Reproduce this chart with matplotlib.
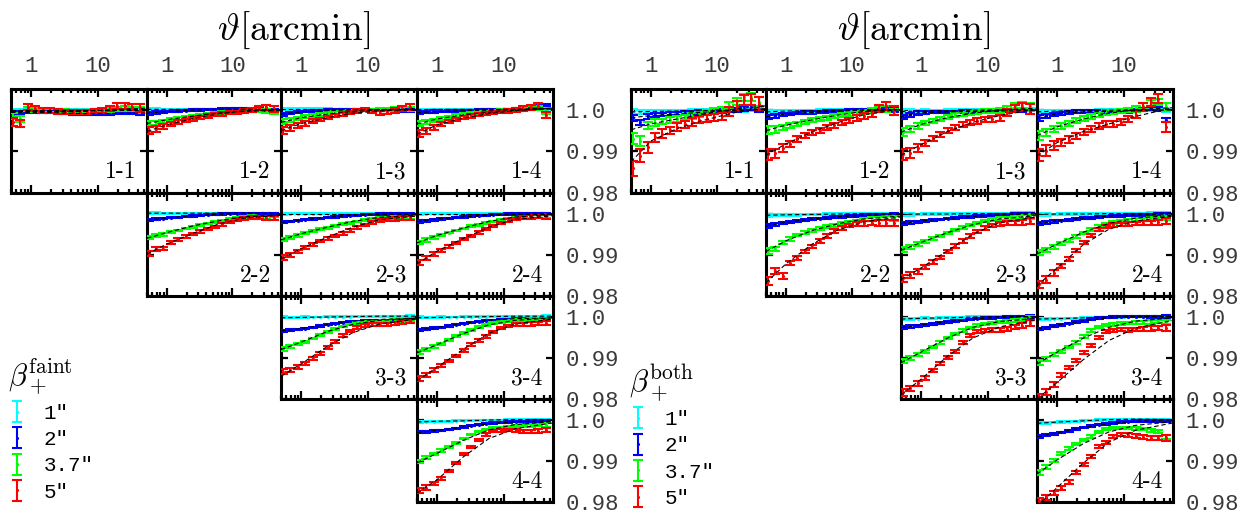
import matplotlib
matplotlib.use("Agg")
import matplotlib.pyplot as plt
from matplotlib.ticker import NullFormatter
import numpy as np

plt.rcParams['mathtext.fontset'] = 'cm'
plt.rcParams['font.family'] = ['Liberation Mono', 'DejaVu Sans Mono']

# angular bins (arcmin) and model nodes
theta = [0.53, 0.69, 0.89, 1.15, 1.49, 1.93, 2.50, 3.24, 4.19, 5.42, 7.02, 9.08, 11.8, 15.2, 19.7, 25.5, 33.0, 42.8]
theta_model = [0.5, 1.0, 2.5, 6.0, 15.0, 55.0]

series_labels = ['1"', '2"', '3.7"', '5"']
colors = ['#00ffff', '#0000ff', '#00ff00', '#ff0000']
xtick_vals = [1, 10]
xtick_labels = ['1', '10']
ytick_vals = [0.98, 0.99, 1.0]
ytick_labels = ['0.98', '0.99', '1.0']
pair_keys = ['1-1', '1-2', '1-3', '1-4', '2-2', '2-3', '2-4', '3-3', '3-4', '4-4']

# values are deviations from 1 in units of 1e-3, order: cyan, blue, green, red
faint_11 = [[-0.1,-0.1,0.0,0.0,0.0,-0.1,-0.1,-0.1,-0.1,-0.1,-0.1,-0.1,-0.1,0.0,0.0,0.0,0.0,0.0],
            [-0.9,-0.6,-0.5,-0.5,-0.5,-0.6,-0.7,-0.8,-0.9,-1.0,-1.1,-1.1,-1.0,-0.9,-0.8,-0.8,-0.8,-0.9],
            [-1.5,-2.2,0.2,0.0,-0.2,-0.2,-0.3,-0.3,-0.4,-0.4,-0.4,-0.3,-0.2,0.0,0.2,0.3,0.2,0.0],
            [-2.9,-3.3,0.7,0.3,-0.1,-0.2,-0.4,-0.5,-0.5,-0.6,-0.5,-0.3,-0.1,0.3,0.9,0.9,0.7,0.5]]
faint_11_model = [[0.0,0.0,0.0,0.0,0.0,0.0], [-0.6,-0.6,-0.7,-0.9,-0.9,-0.8],
                  [-0.4,-0.3,-0.3,-0.3,-0.1,0.1], [-0.6,-0.4,-0.4,-0.4,0.0,0.4]]
faint_12 = [[0.1,0.1,0.1,0.1,0.1,0.1,0.1,0.1,0.1,0.1,0.1,0.1,0.1,0.1,0.1,0.1,0.0,0.0],
            [-0.9,-0.7,-0.5,-0.4,-0.3,-0.2,-0.1,0.0,0.1,0.1,0.2,0.2,0.2,0.2,0.1,0.1,0.0,-0.1],
            [-3.4,-3.1,-2.8,-2.4,-2.1,-1.8,-1.6,-1.3,-1.1,-0.9,-0.7,-0.5,-0.4,-0.3,-0.2,-0.2,-0.3,-0.5],
            [-5.0,-4.6,-4.0,-3.4,-3.0,-2.6,-2.2,-1.9,-1.5,-1.2,-1.0,-0.7,-0.5,-0.3,0.0,0.4,0.6,0.2]]
faint_12_model = [[0.1,0.1,0.1,0.1,0.1,0.0], [-0.8,-0.4,-0.1,0.1,0.1,0.0],
                  [-3.3,-2.4,-1.5,-0.8,-0.3,-0.2], [-5.2,-3.6,-2.1,-1.0,-0.3,0.1]]
faint_13 = [[0.2,0.2,0.2,0.2,0.2,0.2,0.2,0.1,0.1,0.1,0.1,0.1,0.1,0.1,0.1,0.1,0.1,0.1],
            [-1.1,-0.8,-0.6,-0.4,-0.3,-0.2,-0.1,-0.1,0.0,0.0,0.0,0.0,0.0,-0.1,-0.1,-0.2,-0.2,-0.2],
            [-2.9,-2.5,-2.1,-1.7,-1.4,-1.1,-0.9,-0.7,-0.5,-0.3,-0.2,-0.1,-0.1,0.0,0.1,0.2,0.3,0.2],
            [-4.9,-4.3,-3.8,-3.3,-2.7,-2.3,-1.8,-1.4,-1.0,-0.6,-0.3,0.0,-0.4,-0.7,-0.6,-0.2,0.3,0.6]]
faint_13_model = [[0.1,0.1,0.1,0.1,0.1,0.1], [-1.0,-0.5,-0.2,0.0,0.0,-0.1],
                  [-3.0,-1.9,-1.0,-0.4,0.0,0.2], [-5.0,-3.3,-1.9,-0.8,-0.3,0.2]]
faint_14 = [[0.0,0.0,0.1,0.1,0.1,0.1,0.1,0.1,0.1,0.1,0.1,0.1,0.1,0.1,0.2,0.2,0.3,0.3],
            [-0.6,-0.5,-0.4,-0.4,-0.3,-0.3,-0.2,-0.2,-0.1,-0.1,0.0,0.0,0.1,0.2,0.3,0.5,0.8,1.2],
            [-3.3,-2.9,-2.5,-2.1,-1.7,-1.4,-1.1,-0.9,-0.7,-0.6,-0.4,-0.2,-0.1,0.0,0.2,0.4,0.5,-0.4],
            [-5.7,-5.1,-4.3,-3.5,-2.8,-2.3,-1.9,-1.5,-1.2,-0.9,-0.6,-0.4,-0.2,0.0,0.3,0.6,1.0,-1.2]]
faint_14_model = [[0.0,0.1,0.1,0.1,0.1,0.2], [-0.7,-0.4,-0.2,-0.1,0.1,0.4],
                  [-3.4,-2.2,-1.2,-0.6,-0.1,0.3], [-5.9,-3.6,-2.0,-0.9,-0.2,0.4]]
faint_22 = [[0.1,0.1,0.1,0.1,0.1,0.1,0.1,0.1,0.1,0.1,0.1,0.1,0.1,0.1,0.1,0.0,0.0,0.0],
            [-1.6,-1.4,-1.2,-1.0,-0.9,-0.7,-0.6,-0.4,-0.3,-0.2,-0.1,0.0,0.0,0.0,0.0,0.0,-0.1,-0.1],
            [-5.8,-5.3,-5.1,-4.5,-4.1,-3.6,-3.2,-2.8,-2.4,-2.0,-1.7,-1.3,-1.0,-0.8,-0.7,-0.8,-1.0,-1.2],
            [-9.6,-8.6,-8.5,-7.0,-6.2,-5.6,-5.0,-4.4,-3.8,-3.2,-2.6,-2.1,-1.5,-1.1,-0.9,-1.0,-1.1,-1.0]]
faint_22_model = [[0.1,0.1,0.1,0.1,0.1,0.0], [-1.6,-1.0,-0.5,-0.2,0.0,0.0],
                  [-6.0,-4.6,-3.0,-1.8,-0.8,-0.3], [-9.8,-7.4,-4.8,-2.6,-1.1,-0.4]]
faint_23 = [[0.0,0.0,0.0,0.0,0.0,0.0,0.0,0.0,0.0,0.0,0.0,0.0,0.0,0.0,0.0,0.0,0.0,0.0],
            [-2.1,-1.9,-1.7,-1.5,-1.3,-1.1,-0.9,-0.8,-0.6,-0.5,-0.4,-0.3,-0.2,-0.1,-0.1,0.0,0.0,0.0],
            [-6.3,-5.8,-5.3,-4.8,-4.3,-3.8,-3.4,-3.0,-2.6,-2.2,-1.9,-1.6,-1.3,-1.1,-1.0,-1.0,-1.0,-0.9],
            [-10.7,-10.0,-9.2,-8.3,-7.5,-6.7,-6.0,-5.4,-4.8,-4.1,-3.4,-2.8,-2.1,-1.6,-1.4,-1.3,-1.1,-1.0]]
faint_23_model = [[0.0,0.0,0.0,0.0,0.0,0.0], [-2.1,-1.5,-0.9,-0.4,-0.1,0.0],
                  [-6.4,-4.9,-3.3,-1.9,-0.9,-0.4], [-11.0,-8.5,-5.7,-3.3,-1.5,-0.6]]
faint_24 = [[0.0,0.0,0.0,0.0,0.0,0.0,0.0,0.0,0.0,0.0,0.0,0.0,0.0,0.0,0.0,0.0,0.0,0.0],
            [-1.9,-1.7,-1.5,-1.3,-1.1,-0.9,-0.8,-0.6,-0.5,-0.4,-0.3,-0.2,-0.1,-0.1,0.0,0.0,0.0,0.0],
            [-7.0,-6.4,-5.8,-5.2,-4.6,-4.1,-3.6,-3.1,-2.7,-2.3,-1.9,-1.5,-1.2,-1.0,-0.8,-0.7,-0.7,-0.7],
            [-11.8,-10.8,-9.8,-8.9,-8.0,-7.1,-6.2,-5.4,-4.6,-3.8,-3.0,-2.3,-1.7,-1.3,-1.0,-0.8,-0.7,-0.7]]
faint_24_model = [[0.0,0.0,0.0,0.0,0.0,0.0], [-1.9,-1.3,-0.8,-0.4,-0.1,0.0],
                  [-7.1,-5.3,-3.5,-1.9,-0.8,-0.3], [-12.2,-9.1,-6.0,-3.3,-1.4,-0.5]]
faint_33 = [[-0.2,-0.2,-0.2,-0.1,-0.1,-0.1,0.0,0.0,0.0,0.0,0.1,0.1,0.1,0.1,0.1,0.1,0.1,0.1],
            [-3.4,-3.3,-3.1,-2.9,-2.6,-2.3,-2.0,-1.7,-1.5,-1.3,-1.1,-1.0,-1.0,-0.9,-0.9,-0.8,-0.8,-0.7],
            [-7.8,-7.3,-6.7,-6.1,-5.3,-4.5,-3.7,-3.0,-2.4,-1.9,-1.6,-1.3,-1.2,-1.1,-1.0,-1.0,-0.9,-0.8],
            [-13.4,-13.0,-12.2,-11.3,-10.2,-8.9,-7.5,-6.0,-4.6,-3.5,-2.7,-2.2,-2.0,-2.0,-1.9,-1.7,-1.3,-1.0]]
faint_33_model = [[-0.3,-0.2,-0.1,0.0,0.1,0.1], [-3.5,-2.9,-1.9,-1.1,-0.7,-0.4],
                  [-8.0,-6.2,-3.6,-1.9,-0.9,-0.4], [-14.5,-11.5,-7.2,-3.9,-1.8,-0.6]]
faint_34 = [[-0.2,-0.2,-0.2,-0.1,-0.1,-0.1,0.0,0.0,0.0,0.0,0.1,0.1,0.1,0.1,0.1,0.1,0.1,0.1],
            [-3.2,-3.0,-2.8,-2.6,-2.3,-2.0,-1.7,-1.4,-1.2,-1.0,-0.9,-0.8,-0.7,-0.6,-0.6,-0.5,-0.5,-0.5],
            [-8.6,-8.0,-7.3,-6.6,-5.7,-4.8,-4.0,-3.2,-2.6,-2.0,-1.6,-1.3,-1.0,-0.9,-0.8,-0.7,-0.6,-0.6],
            [-15.0,-14.2,-13.0,-11.9,-10.8,-9.6,-8.2,-6.8,-5.8,-4.8,-3.8,-2.8,-2.3,-2.0,-1.9,-1.8,-1.7,-1.6]]
faint_34_model = [[-0.3,-0.2,-0.1,0.0,0.1,0.1], [-3.3,-2.6,-1.6,-0.9,-0.5,-0.3],
                  [-8.8,-6.8,-4.1,-2.0,-0.9,-0.3], [-15.6,-12.3,-7.9,-4.0,-1.8,-0.6]]
faint_44 = [[-0.6,-0.5,-0.5,-0.4,-0.4,-0.3,-0.3,-0.2,-0.2,-0.1,-0.1,-0.1,0.0,0.0,0.0,0.0,0.0,0.0],
            [-3.1,-3.0,-2.8,-2.6,-2.4,-2.1,-1.8,-1.5,-1.2,-1.0,-0.8,-0.7,-0.6,-0.5,-0.5,-0.4,-0.4,-0.4],
            [-10.2,-9.3,-8.4,-7.5,-6.6,-5.7,-4.6,-3.6,-2.9,-2.4,-2.1,-1.9,-1.7,-1.6,-1.5,-1.4,-1.3,-1.3],
            [-17.3,-16.5,-15.5,-14.3,-12.5,-10.5,-8.4,-6.6,-5.0,-3.6,-2.8,-2.6,-2.5,-2.6,-2.8,-2.9,-2.8,-2.6]]
faint_44_model = [[-0.6,-0.4,-0.3,-0.1,0.0,0.0], [-3.2,-2.6,-1.8,-1.0,-0.5,-0.3],
                  [-10.5,-8.2,-5.0,-2.5,-1.2,-0.5], [-17.8,-14.6,-9.0,-4.6,-2.2,-0.8]]

both_11 = [[-0.5,-0.5,-0.4,-0.4,-0.4,-0.3,-0.3,-0.3,-0.2,-0.2,-0.2,-0.1,-0.1,-0.1,0.0,0.0,0.1,0.1],
           [-2.0,-3.0,-1.6,-1.3,-1.1,-1.0,-0.9,-0.8,-0.7,-0.6,-0.5,-0.4,-0.3,-0.2,0.0,0.3,0.6,0.2],
           [-6.9,-7.5,-3.7,-3.1,-2.8,-2.5,-2.2,-1.8,-1.5,-1.1,-0.7,-0.3,0.1,1.0,2.0,3.0,3.1,1.9],
           [-14.1,-11.0,-9.0,-6.6,-5.7,-4.9,-4.1,-3.5,-2.9,-2.4,-2.1,-1.8,-1.4,-0.4,1.0,2.3,2.5,1.5]]
both_11_model = [[-0.5,-0.4,-0.3,-0.2,-0.1,0.0], [-1.9,-1.4,-1.0,-0.6,-0.2,0.3],
                 [-4.8,-3.4,-2.2,-1.1,0.0,1.0], [-12.5,-7.5,-4.5,-2.6,-1.0,1.0]]
both_12 = [[-0.5,-0.4,-0.4,-0.3,-0.3,-0.2,-0.2,-0.1,-0.1,-0.1,0.0,0.0,0.0,0.0,0.0,0.0,0.0,0.0],
           [-1.7,-1.5,-1.2,-1.0,-0.8,-0.7,-0.6,-0.5,-0.4,-0.3,-0.3,-0.2,-0.2,-0.1,-0.1,-0.1,0.0,0.0],
           [-4.9,-4.8,-4.2,-3.7,-3.3,-2.9,-2.5,-2.2,-1.9,-1.6,-1.3,-1.0,-0.8,-0.5,-0.2,0.2,0.1,-0.5],
           [-10.7,-10.5,-9.2,-8.2,-7.1,-6.2,-5.5,-4.9,-4.3,-3.7,-3.1,-2.5,-2.0,-1.5,-0.9,0.3,0.8,-0.1]]
both_12_model = [[-0.5,-0.3,-0.2,-0.1,0.0,0.0], [-1.7,-1.0,-0.6,-0.3,-0.1,0.0],
                 [-5.0,-3.7,-2.4,-1.3,-0.4,0.1], [-10.9,-8.2,-5.3,-3.1,-1.2,0.2]]
both_13 = [[-0.4,-0.3,-0.3,-0.2,-0.2,-0.2,-0.1,-0.1,-0.1,0.0,0.0,0.0,0.0,0.0,0.0,0.0,0.0,0.0],
           [-1.7,-1.2,-0.8,-0.6,-0.5,-0.5,-0.5,-0.5,-0.4,-0.4,-0.4,-0.3,-0.3,-0.3,-0.2,-0.2,-0.2,-0.5],
           [-5.3,-4.6,-3.9,-3.2,-2.6,-2.1,-1.7,-1.3,-1.0,-0.8,-0.6,-0.4,-0.3,-0.1,0.3,0.9,1.1,0.8],
           [-10.7,-10.4,-9.3,-8.0,-6.9,-5.9,-5.0,-4.3,-3.6,-3.1,-2.7,-2.4,-2.3,-2.0,-0.6,0.3,0.7,0.2]]
both_13_model = [[-0.4,-0.3,-0.2,-0.1,0.0,0.0], [-1.6,-0.7,-0.5,-0.4,-0.3,-0.2],
                 [-5.4,-3.5,-1.9,-0.8,-0.1,0.4], [-10.9,-8.4,-5.2,-3.0,-1.4,0.2]]
both_14 = [[-0.5,-0.4,-0.4,-0.3,-0.3,-0.2,-0.2,-0.2,-0.1,-0.1,-0.1,0.0,0.0,0.0,0.0,0.0,0.0,0.0],
           [-2.0,-1.5,-1.1,-0.8,-0.6,-0.5,-0.5,-0.5,-0.4,-0.4,-0.4,-0.3,-0.3,-0.2,0.0,0.3,0.2,-2.4],
           [-6.1,-5.4,-4.6,-3.9,-3.3,-2.6,-2.1,-1.6,-1.1,-0.7,-0.5,-0.3,-0.1,0.2,0.9,1.6,1.9,0.7],
           [-10.9,-9.8,-8.7,-7.8,-7.2,-6.2,-5.3,-4.5,-3.9,-3.5,-3.3,-2.9,-2.2,-1.2,0.7,1.9,2.6,-4.1]]
both_14_model = [[-0.5,-0.3,-0.2,-0.1,0.0,0.0], [-1.9,-0.9,-0.5,-0.4,-0.2,0.0],
                 [-6.2,-4.1,-2.2,-0.8,0.0,0.5], [-11.1,-7.9,-5.2,-3.4,-1.6,0.5]]
both_22 = [[-0.4,-0.4,-0.3,-0.3,-0.3,-0.2,-0.2,-0.2,-0.1,-0.1,-0.1,-0.1,0.0,0.0,0.0,-0.1,-0.1,-0.1],
           [-3.0,-2.7,-2.3,-2.0,-1.8,-1.6,-1.4,-1.2,-1.1,-0.9,-0.8,-0.6,-0.5,-0.4,-0.3,-0.3,-0.3,-0.3],
           [-9.0,-8.6,-7.0,-6.2,-5.2,-4.6,-4.1,-3.6,-3.2,-2.8,-2.4,-2.1,-1.8,-1.5,-1.3,-1.2,-1.1,-1.1],
           [-16.3,-13.9,-15.1,-12.0,-10.7,-9.2,-8.0,-6.7,-5.4,-4.2,-3.4,-2.9,-2.6,-2.4,-2.3,-2.3,-2.3,-2.3]]
both_22_model = [[-0.4,-0.3,-0.2,-0.1,0.0,0.0], [-3.0,-2.1,-1.3,-0.8,-0.4,-0.2],
                 [-9.2,-6.6,-4.1,-2.5,-1.3,-0.6], [-16.8,-12.2,-7.4,-4.0,-2.0,-0.8]]
both_23 = [[-0.2,-0.2,-0.2,-0.1,-0.1,-0.1,-0.1,0.0,0.0,0.0,0.0,0.0,0.0,0.0,0.1,0.1,0.1,0.1],
           [-2.3,-2.2,-2.0,-1.8,-1.6,-1.4,-1.2,-1.1,-0.9,-0.8,-0.6,-0.5,-0.4,-0.3,-0.2,-0.1,-0.1,-0.1],
           [-8.7,-8.1,-7.4,-6.8,-6.1,-5.4,-4.7,-4.0,-3.4,-2.8,-2.3,-1.8,-1.5,-1.3,-1.1,-1.0,-0.8,-0.7],
           [-15.7,-15.0,-14.0,-13.0,-11.8,-10.6,-9.2,-7.9,-6.6,-5.4,-4.3,-3.5,-2.9,-2.5,-2.3,-2.3,-2.1,-1.9]]
both_23_model = [[-0.2,-0.1,-0.1,0.0,0.0,0.1], [-2.4,-1.8,-1.2,-0.7,-0.3,-0.1],
                 [-8.9,-7.0,-4.6,-2.7,-1.3,-0.5], [-16.0,-13.2,-9.0,-5.0,-2.2,-0.8]]
both_24 = [[-0.2,-0.2,-0.2,-0.1,-0.1,-0.1,-0.1,0.0,0.0,0.0,0.0,0.0,0.0,0.0,0.1,0.1,0.1,0.1],
           [-2.3,-2.1,-1.9,-1.7,-1.5,-1.3,-1.1,-1.0,-0.8,-0.7,-0.6,-0.5,-0.4,-0.4,-0.3,-0.3,-0.2,-0.2],
           [-9.5,-8.8,-8.1,-7.3,-6.5,-5.6,-4.7,-3.9,-3.1,-2.6,-2.1,-1.9,-1.7,-1.5,-1.4,-1.3,-1.2,-1.1],
           [-17.1,-16.0,-14.4,-12.8,-11.0,-9.0,-7.0,-5.3,-3.8,-3.1,-2.8,-2.6,-2.5,-2.4,-2.3,-2.3,-2.1,-1.9]]
both_24_model = [[-0.2,-0.1,-0.1,0.0,0.0,0.1], [-2.4,-1.7,-1.1,-0.6,-0.3,-0.1],
                 [-9.8,-7.4,-4.5,-2.4,-1.1,-0.4], [-17.5,-13.2,-7.5,-3.8,-1.8,-0.6]]
both_33 = [[-0.6,-0.5,-0.5,-0.4,-0.4,-0.3,-0.3,-0.2,-0.2,-0.1,-0.1,0.0,0.0,0.0,0.0,0.0,0.0,0.0],
           [-2.6,-2.4,-2.2,-2.0,-1.8,-1.5,-1.3,-1.1,-0.9,-0.7,-0.5,-0.4,-0.3,-0.2,-0.1,0.0,0.0,0.0],
           [-10.8,-10.1,-9.3,-8.4,-7.3,-6.3,-5.2,-4.2,-3.4,-2.7,-2.2,-1.8,-1.5,-1.3,-1.1,-0.9,-0.7,-0.4],
           [-18.4,-17.4,-16.2,-14.8,-13.1,-11.4,-9.9,-8.4,-6.2,-4.5,-3.6,-3.3,-3.2,-3.2,-3.0,-2.6,-2.2,-1.6]]
both_33_model = [[-0.6,-0.4,-0.3,-0.1,0.0,0.0], [-2.7,-2.0,-1.2,-0.6,-0.2,0.0],
                 [-11.2,-8.6,-5.2,-2.6,-1.2,-0.4], [-19.0,-15.2,-9.6,-5.2,-2.5,-0.8]]
both_34 = [[-0.6,-0.6,-0.5,-0.5,-0.4,-0.4,-0.3,-0.3,-0.2,-0.2,-0.1,-0.1,0.0,0.0,0.0,0.0,0.0,0.0],
           [-3.0,-2.7,-2.3,-2.0,-1.7,-1.3,-1.0,-0.6,-0.4,-0.2,-0.1,0.0,0.0,0.0,0.0,0.0,0.0,0.0],
           [-11.2,-10.3,-9.3,-8.4,-7.4,-6.3,-4.8,-3.4,-2.6,-2.1,-1.9,-1.7,-1.6,-1.5,-1.4,-1.3,-1.2,-1.2],
           [-19.6,-18.3,-16.5,-14.2,-12.4,-10.6,-8.8,-7.0,-5.0,-3.6,-3.3,-3.2,-3.2,-3.1,-3.0,-2.9,-2.8,-2.8]]
both_34_model = [[-0.6,-0.5,-0.3,-0.1,0.0,0.0], [-3.1,-2.1,-1.0,-0.3,0.0,0.0],
                 [-11.5,-8.6,-5.2,-2.6,-1.1,-0.3], [-20.0,-16.0,-10.4,-5.8,-2.8,-0.9]]
both_44 = [[-0.9,-0.8,-0.7,-0.6,-0.5,-0.4,-0.3,-0.2,-0.1,0.0,0.1,0.1,0.1,0.1,0.0,0.0,0.0,0.0],
           [-4.1,-3.8,-3.5,-3.1,-2.7,-2.3,-1.9,-1.5,-1.2,-1.0,-0.8,-0.6,-0.5,-0.4,-0.4,-0.3,-0.3,-0.3],
           [-12.9,-11.4,-9.9,-8.3,-7.0,-5.9,-4.9,-4.1,-3.0,-2.3,-2.1,-2.0,-2.0,-2.1,-2.3,-2.6,-2.9,-4.3],
           [-19.7,-18.9,-17.8,-16.5,-15.2,-12.8,-10.9,-8.9,-6.6,-5.5,-4.2,-3.7,-3.8,-4.0,-4.3,-4.5,-4.5,-4.5]]
both_44_model = [[-0.9,-0.6,-0.3,0.0,0.1,0.0], [-4.2,-3.2,-1.9,-1.0,-0.4,-0.1],
                 [-13.2,-9.8,-5.8,-3.0,-1.4,-0.5], [-21.0,-16.5,-10.5,-5.5,-2.6,-0.8]]

# error bar half sizes (1e-3) per colour, and per-panel scale
err_cyan = [0.3,0.25,0.2,0.2,0.15,0.15,0.15,0.15,0.15,0.15,0.15,0.15,0.15,0.15,0.15,0.2,0.2,0.25]
err_blue = [0.35,0.3,0.25,0.2,0.2,0.2,0.2,0.2,0.2,0.2,0.2,0.2,0.2,0.2,0.2,0.25,0.25,0.3]
err_green = [0.6,0.5,0.4,0.35,0.3,0.3,0.3,0.3,0.3,0.3,0.3,0.3,0.3,0.35,0.35,0.4,0.45,0.5]
err_red = [0.8,0.7,0.6,0.5,0.45,0.4,0.4,0.4,0.4,0.4,0.4,0.4,0.45,0.45,0.5,0.55,0.6,0.7]
faint_err_scale = [1.3, 1.0, 1.0, 1.0, 0.75, 0.75, 0.75, 0.75, 0.75, 0.75]
both_err_scale = [2.2, 1.6, 1.6, 1.8, 1.15, 1.05, 1.05, 0.95, 0.95, 0.95]

faint = {'1-1': (faint_11, faint_11_model), '1-2': (faint_12, faint_12_model),
         '1-3': (faint_13, faint_13_model), '1-4': (faint_14, faint_14_model),
         '2-2': (faint_22, faint_22_model), '2-3': (faint_23, faint_23_model),
         '2-4': (faint_24, faint_24_model), '3-3': (faint_33, faint_33_model),
         '3-4': (faint_34, faint_34_model), '4-4': (faint_44, faint_44_model)}
both = {'1-1': (both_11, both_11_model), '1-2': (both_12, both_12_model),
        '1-3': (both_13, both_13_model), '1-4': (both_14, both_14_model),
        '2-2': (both_22, both_22_model), '2-3': (both_23, both_23_model),
        '2-4': (both_24, both_24_model), '3-3': (both_33, both_33_model),
        '3-4': (both_34, both_34_model), '4-4': (both_44, both_44_model)}
errs = [err_cyan, err_blue, err_green, err_red]

# layout in pixels
W, H = 1253, 513
left_cols = [11, 147, 281, 417, 553]
right_cols = [631, 766, 901, 1037, 1173]
row_edges = [89, 193, 296, 399, 502]

fig = plt.figure(figsize=(W / 100, H / 100), dpi=100)


def draw_group(panels, cols, err_scale, title_x, legend_title, legend_xy):
    handles = None
    for k, key in enumerate(pair_keys):
        i, j = int(key[0]), int(key[2])
        data, model = panels[key]
        x0, x1 = cols[j - 1], cols[j]
        y0, y1 = row_edges[i - 1], row_edges[i]
        ax = fig.add_axes([x0 / W, 1 - y1 / H, (x1 - x0) / W, (y1 - y0) / H])
        hs = []
        for s in range(4):
            y = 1 + np.array(data[s]) * 1e-3
            e = np.array(errs[s]) * err_scale[k] * 1e-3
            h = ax.errorbar(theta, y, yerr=e, fmt='.', ms=2.5, color=colors[s],
                            elinewidth=1.5, capsize=3.5, capthick=1.5, zorder=2 + s)
            hs.append(h)
        for s in range(4):
            ax.plot(theta_model, 1 + np.array(model[s]) * 1e-3, color='k', lw=0.8,
                    ls=(0, (4, 2.5)), zorder=10)
        if handles is None:
            handles = hs
        ax.set_xscale('log')
        ax.set_xlim(0.5, 55)
        ax.set_ylim(0.98, 1.005)
        ax.set_xticks(xtick_vals)
        ax.set_xticklabels(xtick_labels)
        ax.xaxis.set_minor_formatter(NullFormatter())
        ax.set_yticks(ytick_vals)
        ax.set_yticklabels(ytick_labels)
        ax.tick_params(which='both', direction='in', top=True, bottom=True, left=True,
                       right=True, labelbottom=False, labelleft=False,
                       labeltop=(i == 1), labelright=(j == 4), width=1.6,
                       labelsize=16, labelcolor='#3a3a3a')
        ax.tick_params(axis='x', which='major', length=6, pad=9)
        ax.tick_params(axis='x', which='minor', length=3)
        ax.tick_params(axis='y', which='major', length=5, pad=9)
        for sp in ax.spines.values():
            sp.set_linewidth(2.2)
        ax.text(0.925, 0.14, key, transform=ax.transAxes, ha='right', va='baseline',
                fontsize=17, family='cmr10')

    fig.text(title_x / W, 1 - 30 / H, r'$\vartheta[\mathrm{arcmin}]$', fontsize=27,
             ha='center', va='center')
    fig.legend(handles, series_labels, title=legend_title, loc='upper left',
               bbox_to_anchor=(legend_xy[0] / W, 1 - legend_xy[1] / H),
               frameon=False, fontsize=15, title_fontsize=22, alignment='left',
               handlelength=0.9, handletextpad=0.8, labelspacing=0.35,
               borderpad=0, borderaxespad=0)


draw_group(faint, left_cols, faint_err_scale, 294, r'$\beta_+^{\rm faint}$', (8, 356))
draw_group(both, right_cols, both_err_scale, 914, r'$\beta_+^{\rm both}$', (629, 362))

fig.savefig('out.png', dpi=100)
